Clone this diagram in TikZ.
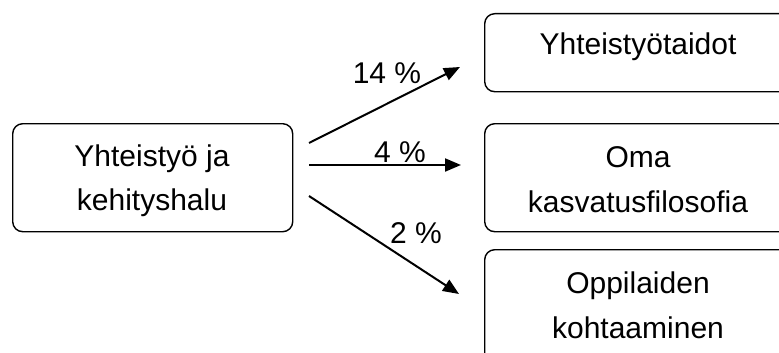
\documentclass[tikz,border=0pt]{standalone}
\usepackage{fontspec}
\setmainfont{Liberation Sans}
\usetikzlibrary{arrows.meta}
\begin{document}
\begin{tikzpicture}[x=1pt,y=-1pt,
  box/.style={draw, line width=1.4pt, rounded corners=10pt, inner sep=0pt, anchor=north west},
  txt/.style={font=\fontsize{30}{36}\selectfont, anchor=base, inner sep=0pt},
  flow/.style={line width=2pt, -{Triangle[length=16pt,width=13pt]}}]
\useasboundingbox (0,0) rectangle (779,353);
\clip (0,0) rectangle (779,353);

% boxes
\node[box, minimum width=280pt, minimum height=108pt] (src) at (12,123) {};
\node[box, minimum width=310pt, minimum height=78pt]  (t1) at (484,13) {};
\node[box, minimum width=310pt, minimum height=108pt] (t2) at (484,123) {};
\node[box, minimum width=310pt, minimum height=122pt] (t3) at (484,249) {};

% box texts
\node[txt] (s1) at (152,166) {Yhteistyö ja};
\node[txt] (s2) at (152,210) {kehityshalu};
\node[txt] (a1) at (638,55) {Yhteistyötaidot};
\node[txt] (b1) at (638,167) {Oma};
\node[txt] (b2) at (638,212) {kasvatusfilosofia};
\node[txt] (c1) at (638,293) {Oppilaiden};
\node[txt] (c2) at (638,338) {kohtaaminen};

% connector ends
\coordinate (o1) at (309,143);
\coordinate (o2) at (309,165);
\coordinate (o3) at (309,196);
\coordinate (e1) at (460,67);
\coordinate (e2) at (461,165);
\coordinate (e3) at (459,294);

\draw[flow] (o1) -- (e1);
\draw[flow] (o2) -- (e2);
\draw[flow] (o3) -- (e3);

% percentages
\node[txt] (p1) at (387,83) {14 \%};
\node[txt] (p2) at (400,162) {4 \%};
\node[txt] (p3) at (416,243) {2 \%};
\end{tikzpicture}
\end{document}
